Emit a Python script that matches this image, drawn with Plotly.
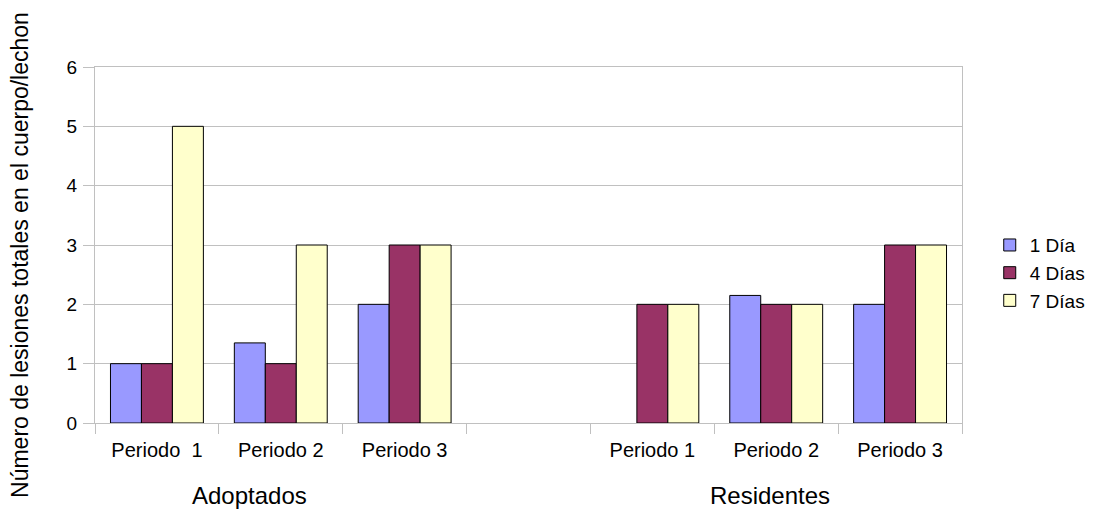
import plotly.graph_objects as go

categories = ["Periodo  1", "Periodo 2", "Periodo 3", "", "Periodo 1", "Periodo 2", "Periodo 3"]
series_names = ["1 Día", "4 Días", "7 Días"]
dia1 = [1, 1.35, 2, None, None, 2.15, 2]
dias4 = [1, 1, 3, None, 2, 2, 3]
dias7 = [5, 3, 3, None, 2, 2, 3]
groups = ["Adoptados", "Residentes"]
group_label_x = [0.75, 4.95]
y_ticks = [0, 1, 2, 3, 4, 5, 6]
y_title = "Número de lesiones totales en el cuerpo/lechon"

colors = ["#9999FF", "#993366", "#FFFFCC"]
xs = list(range(len(categories)))

fig = go.Figure()
for name, vals, col in zip(series_names, [dia1, dias4, dias7], colors):
    fig.add_trace(go.Bar(x=xs, y=vals, name=name,
                         marker=dict(color=col, line=dict(color="black", width=1))))

for g, c in zip(groups, group_label_x):
    fig.add_annotation(x=c, y=-0.205, xref="x", yref="paper", text=g, showarrow=False,
                       font=dict(size=24, color="black"), yanchor="middle")

fig.add_annotation(x=-0.0865, y=0.472, xref="paper", yref="paper", text=y_title,
                   showarrow=False, textangle=-90, font=dict(size=23, color="black"),
                   xanchor="center", yanchor="middle")

fig.update_layout(
    width=1102, height=513,
    margin=dict(l=95, r=140, t=67, b=90),
    paper_bgcolor="white", plot_bgcolor="white",
    font=dict(family="Liberation Sans, Arial, sans-serif", color="black", size=20),
    barmode="group", bargap=0.25, bargroupgap=0,
    showlegend=True,
    legend=dict(x=1.032, xanchor="left", y=0.421, yanchor="middle",
                font=dict(size=19), tracegroupgap=0),
    xaxis=dict(range=[-0.5, 6.5], tickmode="array", tickvals=xs, ticktext=categories,
               ticks="", showgrid=False, showline=True, linecolor="#c0c0c0", linewidth=1,
               mirror=True, zeroline=False, tickfont=dict(size=20), automargin=False,
               ticklabelstandoff=9,
               minor=dict(tickmode="array", tickvals=[i - 0.5 for i in range(len(categories) + 1)],
                          ticks="outside", ticklen=10, tickcolor="#c0c0c0", showgrid=False)),
    yaxis=dict(range=[0, 6], tickmode="array", tickvals=y_ticks, showgrid=True,
               gridcolor="#c0c0c0", gridwidth=1, showline=True, linecolor="#c0c0c0",
               mirror=True, zeroline=False, ticks="outside", ticklen=11, tickcolor="#c0c0c0",
               tickfont=dict(size=19), automargin=False, ticklabelstandoff=2),
)

# remove the browser's default 8px body margin so the figure fills the window exactly
fig.write_html("out.html", config={"displayModeBar": False},
               post_script="document.body.style.margin='0px';")
